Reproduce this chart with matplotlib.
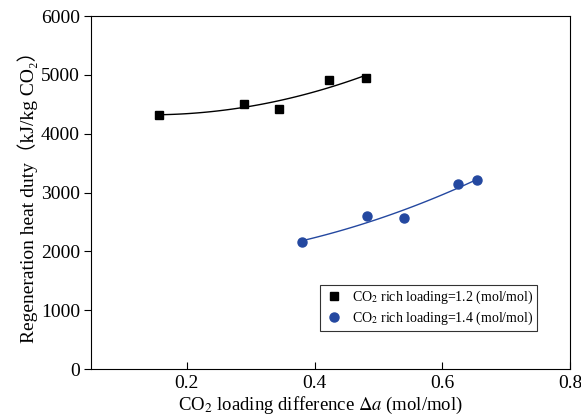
import numpy as np
import matplotlib
matplotlib.use('Agg')
import matplotlib.pyplot as plt

plt.rcParams['font.family'] = ['Liberation Serif', 'DejaVu Serif', 'Noto Sans CJK SC', 'DejaVu Sans']
plt.rcParams['mathtext.fontset'] = 'stix'

# Daten
x_12 = [0.156, 0.289, 0.344, 0.422, 0.481]
y_12 = [4323, 4499, 4425, 4918, 4941]
x_14 = [0.381, 0.482, 0.540, 0.625, 0.655]
y_14 = [2159, 2601, 2572, 3139, 3207]

label_12 = r'CO$_2$ rich loading=1.2 (mol/mol)'
label_14 = r'CO$_2$ rich loading=1.4 (mol/mol)'
blue = '#2448a0'

fig = plt.figure(figsize=(5.81, 4.20), dpi=100)
ax = fig.add_axes([0.1566, 0.1214, 0.8245, 0.8405])

# Quadratische Anpassung je Serie
for xs, ys, c in [(x_12, y_12, 'black'), (x_14, y_14, blue)]:
    p = np.polyfit(xs, ys, 2)
    xx = np.linspace(min(xs), max(xs), 100)
    ax.plot(xx, np.polyval(p, xx), color=c, linewidth=1)

ax.plot(x_12, y_12, 's', color='black', markersize=5.8, linestyle='none', label=label_12)
ax.plot(x_14, y_14, 'o', color=blue, markersize=6.5, linestyle='none', label=label_14)

ax.set_xlim(0.05, 0.8)
ax.set_ylim(0, 6000)
ax.set_xticks([0.2, 0.4, 0.6, 0.8])
ax.set_xticklabels(['0.2', '0.4', '0.6', '0.8'])
ax.set_yticks(range(0, 6001, 1000))
ax.tick_params(axis='x', direction='in', length=5, labelsize=14, pad=4)
ax.tick_params(axis='y', direction='out', length=5, labelsize=14, pad=3)

ax.set_xlabel(r'CO$_2$ loading difference $\Delta a$ (mol/mol)', fontsize=13.5)
ax.xaxis.set_label_coords(0.48, -0.074)
ax.set_ylabel('Regeneration heat duty（kJ/kg CO₂）', fontsize=14, labelpad=2)

leg = ax.legend(loc='lower right', bbox_to_anchor=(0.931, 0.108), borderaxespad=0,
                fontsize=10, frameon=True, fancybox=False, edgecolor='black',
                handletextpad=0.5, borderpad=0.25, labelspacing=0.3, handlelength=1.6)
leg.get_frame().set_linewidth(0.8)

fig.savefig('out.png', dpi=100)
